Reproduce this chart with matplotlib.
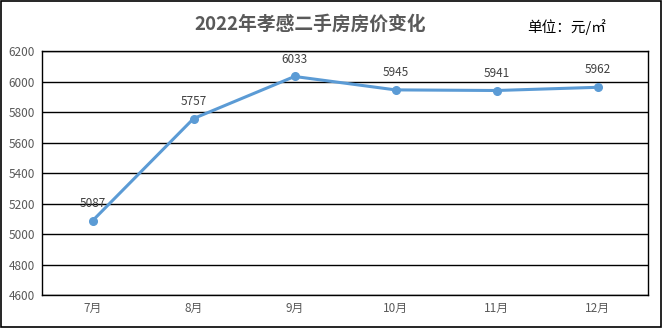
import matplotlib
matplotlib.use('Agg')
import matplotlib.pyplot as plt
from matplotlib.patches import Rectangle

# dados
months = ['7月', '8月', '9月', '10月', '11月', '12月']
prices = [5087, 5757, 6033, 5945, 5941, 5962]
yticks = [4600, 4800, 5000, 5200, 5400, 5600, 5800, 6000, 6200]

plt.rcParams['font.family'] = ['Noto Sans CJK SC', 'DejaVu Sans']

fig = plt.figure(figsize=(6.64, 3.28), dpi=100)
ax = fig.add_axes([0.0633, 0.1006, 0.9127, 0.7439])

x = list(range(len(months)))
ax.plot(x, prices, color='#5B9BD5', lw=2.2, marker='o', ms=5.5, zorder=3)
for xi, v in zip(x, prices):
    ax.annotate(str(v), (xi, v), xytext=(0, 12.5), textcoords='offset points',
                ha='center', va='center', fontsize=8.5, color='#404040')

ax.set_xlim(-0.5, len(months) - 0.5)
ax.set_ylim(4600, 6200)
ax.set_yticks(yticks)
ax.set_xticks(x)
ax.set_xticklabels(months)
ax.grid(axis='y', color='black', lw=1)
ax.set_axisbelow(True)
ax.tick_params(length=0, labelsize=8.5, labelcolor='#595959', pad=5)
for s in ax.spines.values():
    s.set_color('black')
    s.set_linewidth(1)

fig.text(0.467, 0.927, '2022年孝感二手房房价变化', ha='center', va='center',
         fontsize=13.5, fontweight='bold', color='#595959')
fig.text(0.794, 0.918, '单位：元/㎡', ha='left', va='center', fontsize=10.5, color='black')

fig.patches.append(Rectangle((0.001, 0.004), 0.995, 0.993, transform=fig.transFigure,
                             fill=False, edgecolor='black', lw=1.2))

fig.savefig('out.png', dpi=100)
